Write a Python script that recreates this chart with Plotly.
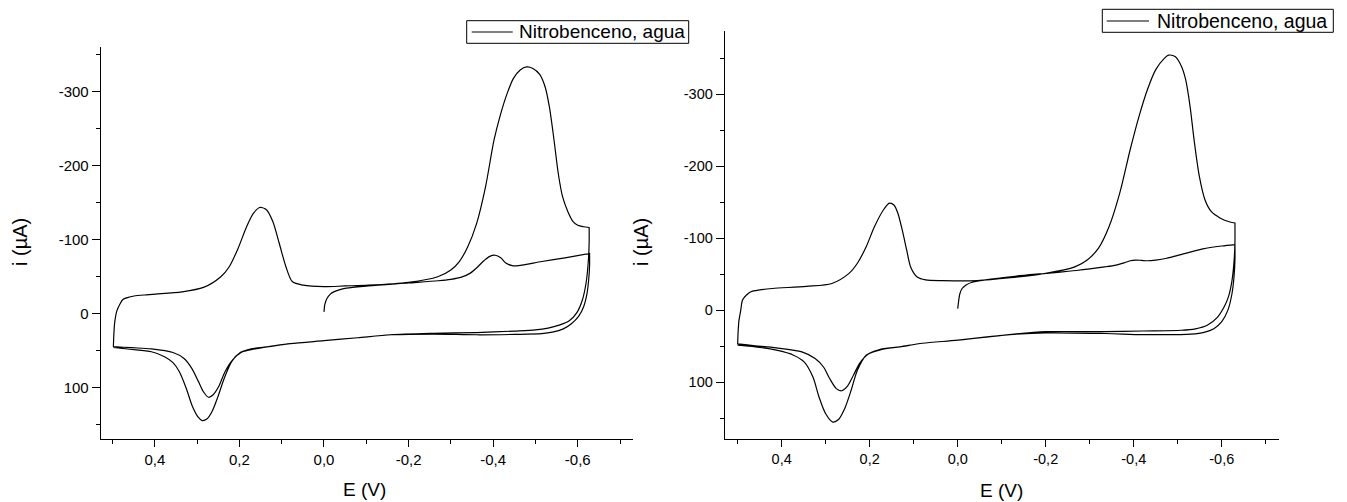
import plotly.graph_objects as go

W, H = 1347, 502

# ---------------- data: left panel ----------------
# initial forward scan
L1_E = [0.0, -0.002, -0.007, -0.015, -0.023, -0.053, -0.105, -0.2, -0.27, -0.3, -0.325, -0.345, -0.362, -0.378, -0.392, -0.405, -0.418, -0.43, -0.445, -0.46, -0.515, -0.57, -0.628]
L1_I = [-2, -12, -20, -26, -29, -34, -37, -41, -44, -46, -49, -54, -62, -71, -77, -78.5, -75, -68, -64.5, -64.5, -70, -75, -81]
# first reverse scan
L2_E = [-0.628, -0.628, -0.626, -0.622, -0.614, -0.602, -0.585, -0.566, -0.54, -0.515, -0.45, -0.36, -0.26, -0.16, -0.08, 0.0, 0.08, 0.131, 0.167, 0.196, 0.216, 0.234, 0.249, 0.262, 0.273, 0.285, 0.297, 0.313, 0.331, 0.357, 0.408, 0.455, 0.498]
L2_I = [-81, -64, -46, -27, -9, 4, 14, 21, 25.5, 27.5, 28.5, 29, 28, 29, 33, 37, 41, 45, 48.6, 53, 63, 79, 99, 110, 113.5, 106, 92, 74, 61, 53, 48, 46.5, 45]
# second forward scan
L3_E = [0.498, 0.497, 0.495, 0.49, 0.483, 0.475, 0.46, 0.449, 0.42, 0.398, 0.336, 0.285, 0.244, 0.224, 0.203, 0.183, 0.167, 0.152, 0.136, 0.121, 0.106, 0.09, 0.075, 0.049, 0.0, -0.05, -0.105, -0.2, -0.269, -0.3, -0.32, -0.34, -0.361, -0.382, -0.402, -0.417, -0.433, -0.448, -0.464, -0.479, -0.494, -0.51, -0.523, -0.533, -0.544, -0.554, -0.564, -0.577, -0.589, -0.6, -0.614, -0.627]
L3_I = [45, 30, 13, -3, -12, -19, -22, -23.4, -25, -26, -29, -35, -49.5, -63, -88, -117, -135, -143, -140, -124, -95, -63, -43, -38, -36, -37, -38, -42, -49.5, -58.6, -70, -90, -121.6, -171, -234, -268, -297, -317.6, -329, -333, -331, -323, -306, -279, -234, -189, -158, -137, -124, -119, -117, -116]
# second reverse scan
L4_E = [-0.627, -0.627, -0.625, -0.62, -0.611, -0.598, -0.58, -0.556, -0.53, -0.5, -0.45, -0.36, -0.258, -0.156, -0.08, 0.0, 0.08, 0.131, 0.172, 0.198, 0.218, 0.236, 0.251, 0.265, 0.277, 0.288, 0.298, 0.311, 0.326, 0.342, 0.357, 0.377, 0.408, 0.459, 0.498]
L4_I = [-116, -95, -70, -42, -18, -1, 10, 16, 20, 22.5, 24, 26, 27, 29, 33, 37, 41, 45, 48, 53, 65, 88, 113, 133, 143, 145, 140, 126, 101, 79, 66.7, 58.6, 52, 48.6, 46]

# ---------------- data: right panel ----------------
R1_E = [0.0, -0.002, -0.005, -0.01, -0.019, -0.035, -0.063, -0.13, -0.2, -0.27, -0.334, -0.36, -0.378, -0.392, -0.405, -0.418, -0.432, -0.45, -0.475, -0.5, -0.557, -0.6, -0.63]
R1_I = [-2, -12, -23, -30, -35, -39, -42, -47, -51, -55, -60, -62.5, -65.5, -68.5, -69.5, -69, -68.5, -69.5, -72, -76, -85, -89, -91]
R2_E = [-0.63, -0.63, -0.628, -0.623, -0.614, -0.6, -0.582, -0.56, -0.53, -0.5, -0.42, -0.334, -0.2, -0.1, 0.0, 0.08, 0.131, 0.174, 0.203, 0.223, 0.237, 0.252, 0.264, 0.276, 0.291, 0.305, 0.324, 0.354, 0.412, 0.46, 0.5]
R2_I = [-91, -70, -47, -22, 0, 16, 26, 31, 33.5, 34, 34, 32.5, 31.6, 35, 41.8, 46, 51, 54.8, 61, 74, 90.5, 106.7, 112, 109, 95, 79, 67.3, 58, 52.4, 49.5, 47]
R3_E = [0.5, 0.499, 0.497, 0.493, 0.489, 0.48, 0.47, 0.45, 0.421, 0.344, 0.286, 0.247, 0.228, 0.208, 0.189, 0.169, 0.155, 0.145, 0.136, 0.126, 0.116, 0.107, 0.092, 0.073, 0.034, -0.044, -0.12, -0.2, -0.266, -0.295, -0.32, -0.344, -0.368, -0.392, -0.412, -0.431, -0.45, -0.47, -0.479, -0.494, -0.508, -0.518, -0.528, -0.537, -0.549, -0.562, -0.576, -0.596, -0.615, -0.63]
R3_I = [47, 30, 14, 0, -14, -21, -25.5, -28, -30, -33, -37, -51, -65, -88, -116, -139, -148.5, -146, -134.6, -111, -83.5, -60, -46, -42, -41, -41, -45, -51, -60, -70, -86, -116, -162, -223, -269, -306, -334, -350, -354, -352, -339, -320, -283, -237, -186, -153, -137, -128, -123, -121]
R4_E = [-0.63, -0.63, -0.628, -0.623, -0.615, -0.605, -0.59, -0.567, -0.54, -0.508, -0.42, -0.334, -0.2, -0.1, 0.0, 0.08, 0.131, 0.179, 0.208, 0.228, 0.242, 0.257, 0.271, 0.284, 0.3, 0.315, 0.329, 0.349, 0.373, 0.412, 0.46, 0.5]
R4_I = [-121, -95, -68, -40, -18, -4, 10, 21, 26, 28, 29, 30, 30, 35, 41.8, 46, 51, 55, 62.6, 83.5, 111, 137, 152, 155.5, 144, 121, 93, 72, 62.6, 55.7, 51, 48.7]

# ---------------- tick labels ----------------
X_TICKS = [0.4, 0.2, 0.0, -0.2, -0.4, -0.6]
X_TICKTEXT = ["0,4", "0,2", "0,0", "-0,2", "-0,4", "-0,6"]
X_MINOR = [0.5, 0.3, 0.1, -0.1, -0.3, -0.5, -0.7]
Y_TICKS = [-300, -200, -100, 0, 100]
Y_TICKTEXT = ["-300", "-200", "-100", "0", "100"]
Y_MINOR = [-350, -250, -150, -50, 50, 150]

SERIES_NAME = "Nitrobenceno, agua"
X_TITLE = "E (V)"
Y_TITLE = "i (µA)"

FONT = "Liberation Sans, Arial, sans-serif"

def px(x):
    return x / W

def py(y):
    return 1 - y / H

LINE = dict(color="black", width=1.2, shape="spline", smoothing=0.8)

fig = go.Figure()
fig.add_trace(go.Scatter(x=L1_E + L2_E + L3_E + L4_E, y=L1_I + L2_I + L3_I + L4_I,
                         mode="lines", line=LINE, name=SERIES_NAME, showlegend=False,
                         xaxis="x", yaxis="y"))
fig.add_trace(go.Scatter(x=R1_E + R2_E + R3_E + R4_E, y=R1_I + R2_I + R3_I + R4_I,
                         mode="lines", line=LINE, name=SERIES_NAME, showlegend=False,
                         xaxis="x2", yaxis="y2"))

def xaxis_cfg(dom, rng, fs, anchor):
    return dict(domain=dom, range=rng, anchor=anchor, showline=True, linecolor="black", linewidth=1,
                mirror=False, showgrid=False, zeroline=False, ticks="outside", ticklen=7,
                tickwidth=1, tickcolor="black", tickvals=X_TICKS, ticktext=X_TICKTEXT,
                tickfont=dict(family=FONT, size=fs, color="black"),
                minor=dict(tickvals=X_MINOR, ticks="outside", ticklen=4, tickcolor="black",
                           tickwidth=1, showgrid=False))

def yaxis_cfg(dom, rng, fs, anchor):
    return dict(domain=dom, range=rng, anchor=anchor, showline=True, linecolor="black", linewidth=1,
                mirror=False, showgrid=False, zeroline=False, ticks="outside", ticklen=8,
                tickwidth=1, tickcolor="black", tickvals=Y_TICKS, ticktext=Y_TICKTEXT,
                tickfont=dict(family=FONT, size=fs, color="black"),
                minor=dict(tickvals=Y_MINOR, ticks="outside", ticklen=4, tickcolor="black",
                           tickwidth=1, showgrid=False))

xa1 = xaxis_cfg([px(100.7), px(632.7)], [0.528, -0.730], 15, "y")
xa2 = xaxis_cfg([px(724.7), px(1279.4)], [0.5295, -0.731], 14.5, "y2")
ya1 = yaxis_cfg([py(439.3), py(47)], [170.3, -360], 15, "x")
ya2 = yaxis_cfg([py(439), py(30.7)], [179, -388], 14.5, "x2")

shapes = []
annotations = []

def legend_box(x0, x1, y0, y1, lx0, lx1, ly, tx, fs):
    shapes.append(dict(type="rect", xref="paper", yref="paper", x0=px(x0), x1=px(x1), y0=py(y1), y1=py(y0),
                       line=dict(color="black", width=1), fillcolor="white", layer="above"))
    shapes.append(dict(type="line", xref="paper", yref="paper", x0=px(lx0), x1=px(lx1), y0=py(ly), y1=py(ly),
                       line=dict(color="black", width=1.2), layer="above"))
    annotations.append(dict(xref="paper", yref="paper", x=px(tx), y=py(ly), xanchor="left", yanchor="middle",
                            text=SERIES_NAME, showarrow=False,
                            font=dict(family=FONT, size=fs, color="black")))

legend_box(466.7, 688.7, 20.7, 43.3, 471.7, 512.7, 32, 517, 19)
legend_box(1102.3, 1333.3, 9.3, 32.3, 1106.7, 1149, 21, 1155, 19.5)

for (x, y, fs) in [(364, 489, 19), (1001, 490, 19)]:
    annotations.append(dict(xref="paper", yref="paper", x=px(x), y=py(y), xanchor="center", yanchor="middle",
                            text=X_TITLE, showarrow=False, font=dict(family=FONT, size=fs, color="black")))
for (x, y, fs) in [(20, 242, 20), (641, 242, 20)]:
    annotations.append(dict(xref="paper", yref="paper", x=px(x), y=py(y), xanchor="center", yanchor="middle",
                            text=Y_TITLE, textangle=-90, showarrow=False,
                            font=dict(family=FONT, size=fs, color="black")))

fig.update_layout(width=W, height=H, margin=dict(l=0, r=0, t=0, b=0),
                  paper_bgcolor="white", plot_bgcolor="white", showlegend=False,
                  xaxis=xa1, yaxis=ya1, xaxis2=xa2, yaxis2=ya2,
                  shapes=shapes, annotations=annotations,
                  font=dict(family=FONT, color="black"))

fig.write_html("out.html")
